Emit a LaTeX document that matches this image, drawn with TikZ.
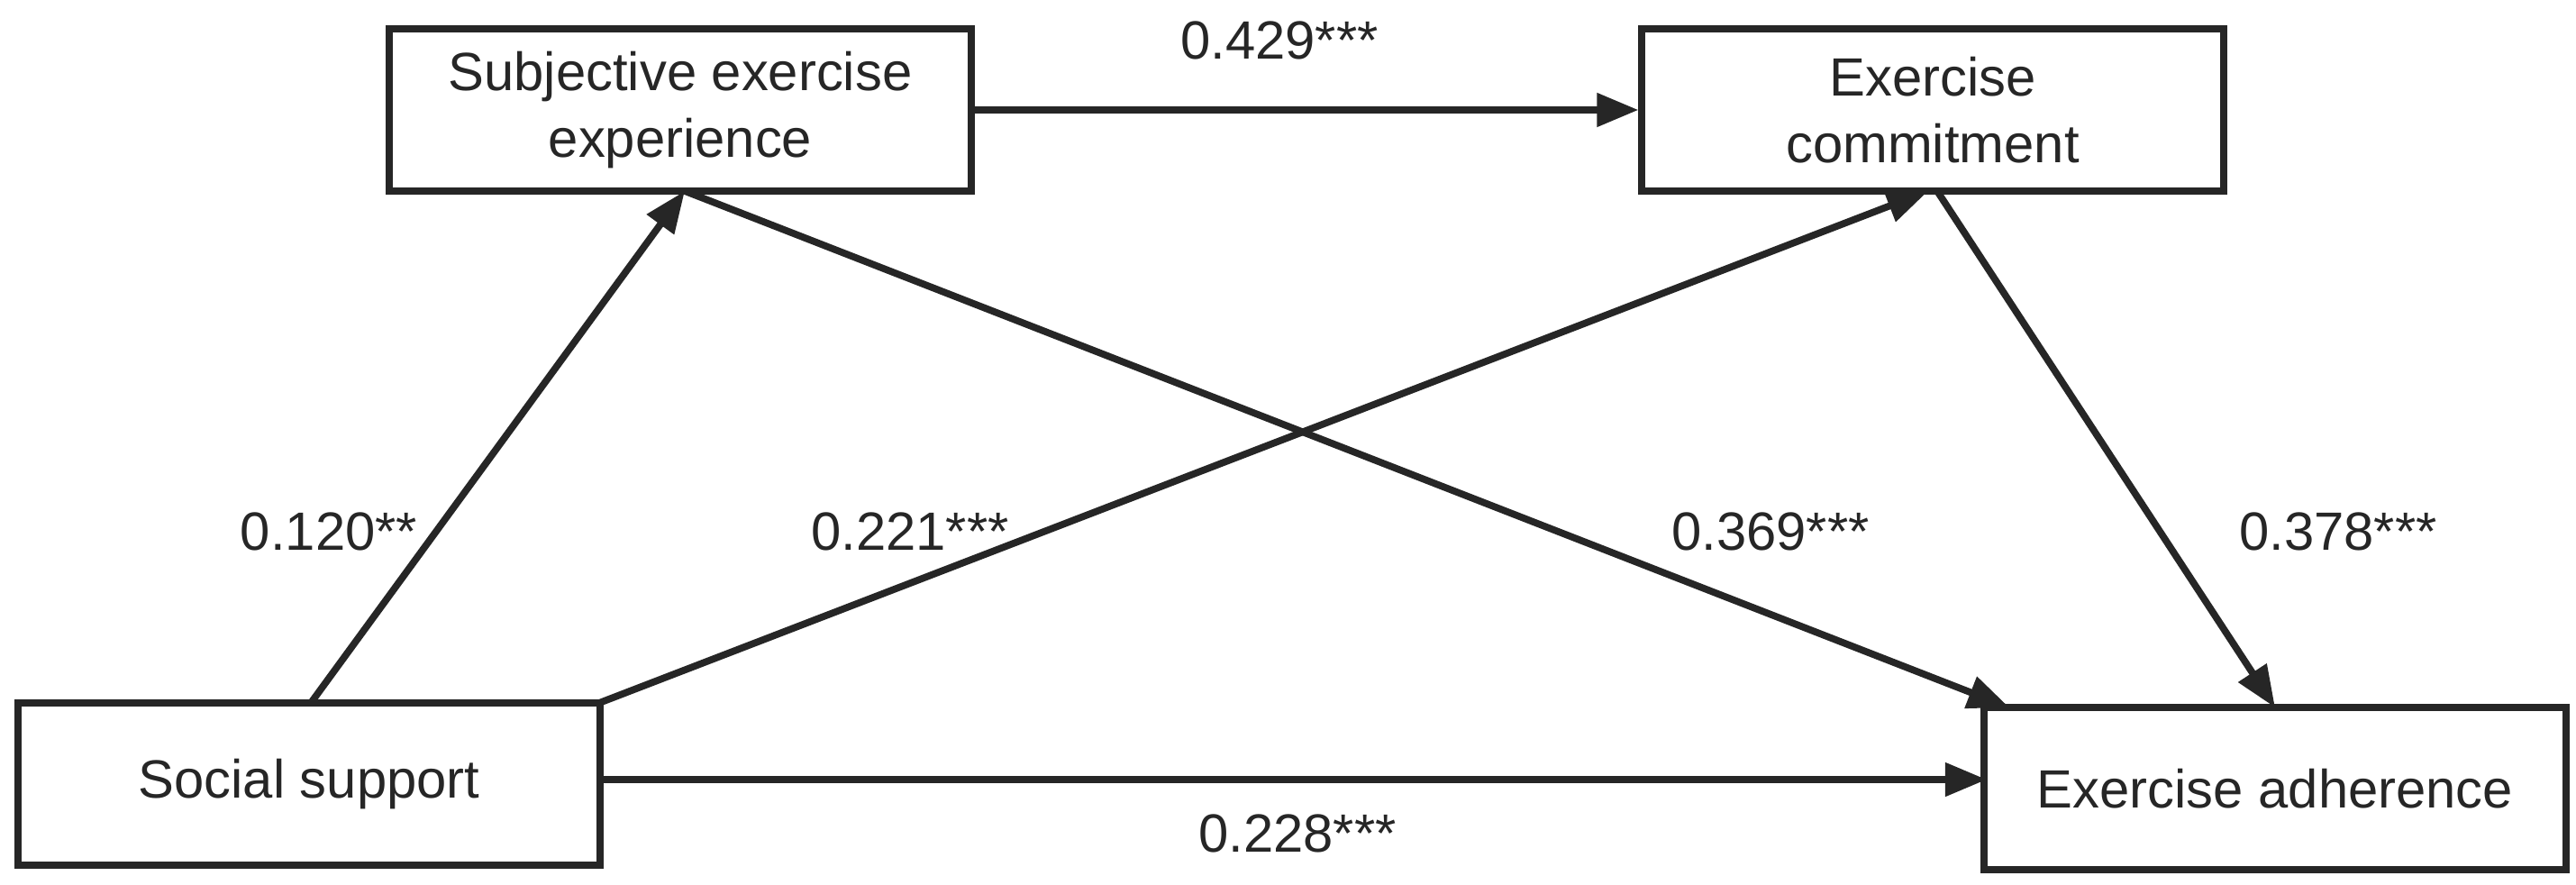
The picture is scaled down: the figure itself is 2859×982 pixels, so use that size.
\documentclass[tikz,border=0pt]{standalone}
\usepackage{fontspec}
\setmainfont{Liberation Sans}
\usetikzlibrary{arrows.meta}
\definecolor{ln}{HTML}{262626}
\begin{document}
\begin{tikzpicture}[x=0.01cm,y=-0.01cm,
  box/.style={draw=ln,line width=2.2pt,minimum width=6.45cm,minimum height=1.8cm,align=center,font=\fontsize{17}{21}\selectfont,inner sep=0pt,text=ln},
  arr/.style={draw=ln,line width=2.2pt,-{Triangle[length=0.46cm,width=0.36cm]}},
  lab/.style={font=\fontsize{17}{21}\selectfont,text=ln}]
\useasboundingbox (0,0) rectangle (2859,982);
\node[box] (see) at (755,122) {Subjective exercise\\experience};
\node[box] (ec) at (2145,122) {Exercise\\commitment};
\node[box] (ss) at (343,870) {Social support};
\node[box] (ea) at (2525,875) {Exercise adherence};
\coordinate (ssA) at (345,780);
\coordinate (ssB) at (665,780);
\coordinate (ssC) at (665,865);
\coordinate (seeB) at (760,212);
\coordinate (ecB) at (2150,212);
\coordinate (eaA) at (2230,785);
\coordinate (eaB) at (2525,785);
\coordinate (eaC) at (2205,865);
\draw[arr] (ssA) -- (seeB);
\draw[arr] (ssB) -- (2140,212);
\draw[arr] (seeB) -- (eaA);
\draw[arr] (ecB) -- (eaB);
\draw[arr] (see.east) -- (ec.west);
\draw[arr] (ssC) -- (eaC);
\node[lab] (l1) at (1420,45) {0.429***};
\node[lab] (l2) at (365,590) {0.120**};
\node[lab] (l3) at (1010,590) {0.221***};
\node[lab] (l4) at (1965,590) {0.369***};
\node[lab] (l5) at (2595,590) {0.378***};
\node[lab] (l6) at (1440,925) {0.228***};
\end{tikzpicture}
\end{document}
